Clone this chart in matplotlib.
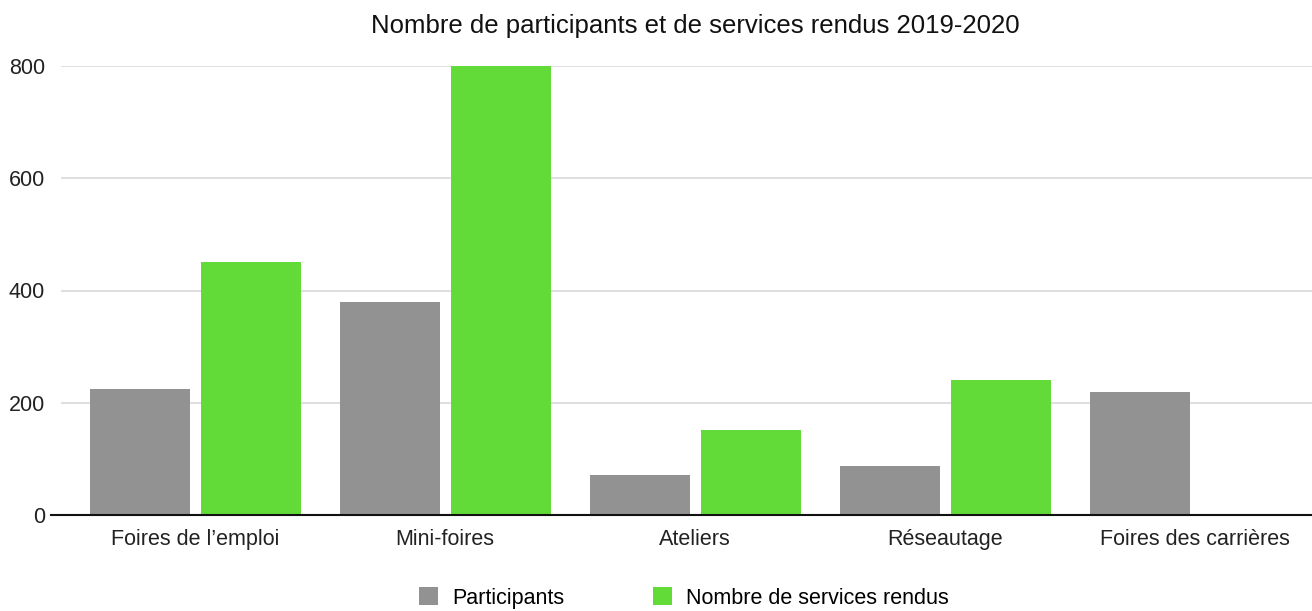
import matplotlib
matplotlib.use("Agg")
import matplotlib.pyplot as plt
import numpy as np

categories = ["Foires de l\u2019emploi", "Mini-foires", "Ateliers", "Réseautage", "Foires des carrières"]
participants = [224, 379, 71, 87, 219]
services = [451, 800, 151, 240, 0]
yticks = [0, 200, 400, 600, 800]
title = "Nombre de participants et de services rendus 2019-2020"
series_names = ["Participants", "Nombre de services rendus"]

plt.rcParams['font.family'] = ['Liberation Sans', 'DejaVu Sans']
FS = 15.5
TFS = 18.5

fig = plt.figure(figsize=(13.12, 6.11), dpi=100)
ax = fig.add_axes([61/1312, 1-515/611, 1-61/1312, (515-66)/611])

x = np.arange(len(categories))
w = 0.4
off = 0.222
gray = "#929292"
green = "#62DA38"
b1 = ax.bar(x - off, participants, w, color=gray, label=series_names[0], zorder=3)
b2 = ax.bar(x + off, services, w, color=green, label=series_names[1], zorder=3)

ax.set_xlim(-0.536, 4.468)
ax.set_ylim(0, 800)
ax.set_yticks(yticks)
ax.set_yticklabels([str(v) for v in yticks], fontsize=FS, color="#222222")
ax.set_xticks(x)
ax.set_xticklabels(categories, fontsize=FS, color="#222222")
ax.tick_params(axis='both', length=0)
ax.tick_params(axis='y', pad=11.5)
ax.tick_params(axis='x', pad=10)
ax.yaxis.grid(True, color="#d9d9d9", linewidth=1.2, zorder=0)
for s in ["top", "right", "left"]:
    ax.spines[s].set_visible(False)
ax.spines["bottom"].set_color("#111111")
ax.spines["bottom"].set_linewidth(1.5)
ax.spines["bottom"].set_zorder(4)
ax.spines["bottom"].set_bounds(-0.576, 4.468)

fig.text(695/1312, 1-26/611, title, ha="center", va="center", fontsize=TFS, color="#111111")

fig.legend(handles=[b1, b2], labels=series_names, loc="center", bbox_to_anchor=(684/1312, 1-598/611),
           ncol=2, frameon=False, fontsize=FS, handlelength=0.88, handleheight=0.88,
           handletextpad=0.65, columnspacing=4.1)

fig.savefig("out.png", dpi=100)
